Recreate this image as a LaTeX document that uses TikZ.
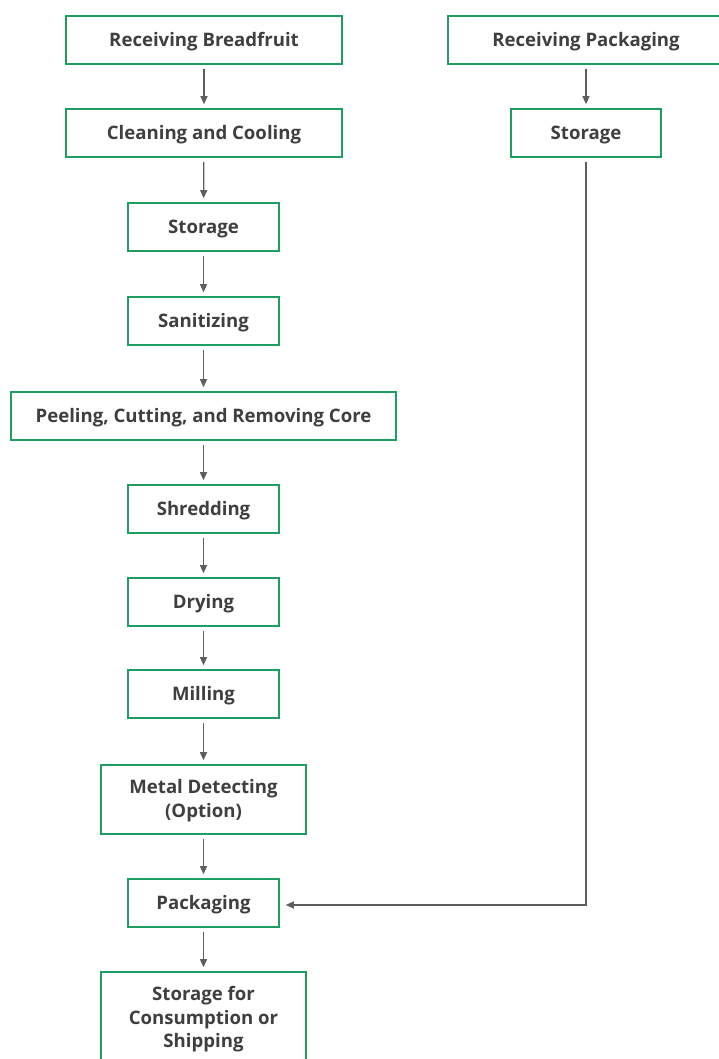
\documentclass[tikz,border=0pt]{standalone}
\usepackage{fontspec}
\setmainfont{Open Sans}
\usetikzlibrary{arrows.meta}
\definecolor{boxgreen}{HTML}{1E9E62}
\definecolor{textgray}{HTML}{3F3F41}
\definecolor{linegray}{HTML}{5E5E60}
\tikzset{
  box/.style={draw=boxgreen, line width=1.6pt, fill=white, text=textgray,
    font=\fontsize{18.6}{23.5}\selectfont\bfseries, align=center, inner sep=0pt,
    minimum height=48pt, text height=13.2pt, text depth=0pt},
  flow/.style={draw=linegray, line width=1.2pt, -{Triangle[length=8pt,width=7pt]},
    shorten <=4pt, shorten >=4pt}
}
\begin{document}
\begin{tikzpicture}[x=1pt,y=-1pt]
\clip (0,0) rectangle (719,1059);
\fill[white] (0,0) rectangle (719,1059);
\node[box, minimum width=276pt] (rb) at (204,40) {Receiving Breadfruit};
\node[box, minimum width=276pt] (cc) at (204,133) {Cleaning and Cooling};
\node[box, minimum width=151pt] (st) at (203.5,227) {Storage};
\node[box, minimum width=151pt] (sa) at (203.5,321) {Sanitizing};
\node[box, minimum width=385pt] (pe) at (203.5,416) {Peeling, Cutting, and Removing Core};
\node[box, minimum width=151pt] (sh) at (203.5,509) {Shredding};
\node[box, minimum width=151pt] (dr) at (203.5,602) {Drying};
\node[box, minimum width=151pt] (mi) at (203.5,694) {Milling};
\node[box, minimum width=205pt, minimum height=69pt, text height=35pt] (md) at (203.5,799.5) {Metal Detecting\\(Option)};
\node[box, minimum width=151pt] (pk) at (203.5,903) {Packaging};
\node[box, minimum width=205pt, minimum height=104pt, text height=47pt] (sc) at (203.5,1024) {Storage for\\Consumption or\\Shipping};
\node[box, minimum width=276pt] (rp) at (586,40) {Receiving Packaging};
\node[box, minimum width=150pt] (s2) at (586,133) {Storage};
\coordinate (corner) at (586,905);
\draw[flow] (rb) -- (cc);
\draw[flow] (cc) -- (st);
\draw[flow] (st) -- (sa);
\draw[flow] (sa) -- (pe);
\draw[flow] (pe) -- (sh);
\draw[flow] (sh) -- (dr);
\draw[flow] (dr) -- (mi);
\draw[flow] (mi) -- (md);
\draw[flow] (md) -- (pk);
\draw[flow] (pk) -- (sc);
\draw[flow] (rp) -- (s2);
\draw[flow, shorten >=6pt] (s2.south) -- (corner) -- (corner -| pk.east);
\end{tikzpicture}
\end{document}
